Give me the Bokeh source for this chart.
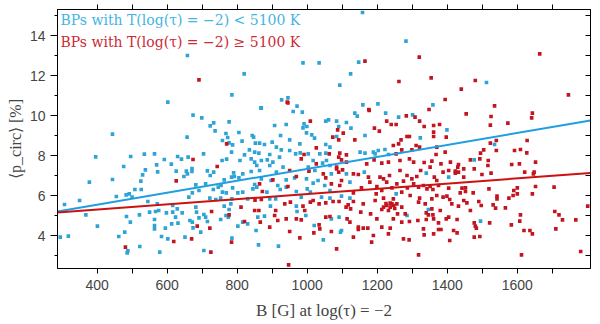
from bokeh.plotting import figure
from bokeh.models import (LinearAxis, SingleIntervalTicker, FixedTicker, Label, Range1d,
                          CustomLabelingPolicy)
from bokeh.embed import file_html
from bokeh.resources import INLINE

# ---------------- data (B [G], <p_circ> [%]) ----------------
blue_points = [
    (658, 13.0), (820, 12.08), (602, 10.67), (785, 11.03), (927, 10.78), (945, 10.88), (868, 10.37),
    (1158, 15.15), (1282, 13.72), (988, 12.63), (1034, 12.63), (1147, 12.67), (1124, 12.08), (1093, 11.52),
    (1512, 11.65), (1159, 10.53), (1202, 10.58), (1359, 10.53),
    (674, 10.02), (699, 9.88), (733, 9.63), (723, 9.48), (777, 9.68), (737, 9.23), (444, 9.07), (657, 8.92),
    (768, 9.1), (773, 8.9), (758, 8.75), (777, 8.63), (787, 8.53), (784, 8.17), (396, 7.93), (496, 7.95),
    (535, 8.07), (564, 8.08), (592, 7.8), (630, 7.95), (641, 7.82), (660, 7.92), (704, 8.08), (770, 7.82),
    (757, 7.75), (570, 7.53), (612, 7.57), (476, 7.45), (538, 7.28), (573, 7.18), (626, 7.22), (655, 7.22),
    (671, 7.35), (671, 7.2), (715, 7.23), (733, 7.17), (530, 7.03), (658, 7.08), (648, 6.95), (723, 7.0),
    (790, 7.13), (792, 6.95), (784, 6.92), (525, 6.72), (444, 6.8), (378, 6.67), (682, 6.53), (710, 6.58),
    (763, 6.78), (754, 6.5), (508, 6.3), (526, 6.3), (787, 6.38),
    (869, 10.38), (971, 10.47), (960, 10.2), (986, 10.17), (1136, 10.12), (1143, 9.97), (1224, 10.12),
    (1261, 9.92), (1301, 10.03), (940, 9.55), (991, 9.58), (999, 9.45), (1053, 9.72), (1061, 9.78),
    (1084, 9.72), (1090, 9.45), (1112, 9.65), (1125, 9.37), (805, 9.15), (843, 9.0), (847, 8.92), (907, 9.5),
    (924, 9.0), (988, 9.38), (998, 9.13), (1013, 9.03), (1021, 8.87), (1084, 8.95), (1165, 9.0), (814, 8.72),
    (852, 8.62), (864, 8.62), (878, 8.55), (900, 8.67), (950, 8.78), (979, 8.58), (912, 8.42), (835, 8.28),
    (850, 8.17), (862, 8.12), (893, 8.05), (821, 8.03), (926, 8.28), (950, 8.25), (967, 8.08), (980, 8.13),
    (1003, 8.08), (1053, 8.55), (1065, 8.42), (1036, 8.08), (1053, 8.12), (1151, 8.17), (1165, 8.12),
    (1189, 8.17), (1194, 8.08), (1203, 8.25), (1222, 8.3), (1232, 8.05), (808, 7.75), (840, 7.83), (850, 7.67),
    (869, 7.75), (886, 7.78), (902, 7.67), (921, 7.92), (856, 7.5), (893, 7.5), (931, 7.42), (1017, 7.75),
    (1044, 7.62), (1055, 7.75), (1065, 7.5), (1003, 7.42), (816, 7.08), (840, 7.2), (864, 7.25), (912, 7.17),
    (1022, 7.25), (1069, 7.08), (1112, 7.08), (1163, 7.17), (805, 6.88), (869, 6.83), (897, 6.75), (940, 6.78),
    (964, 6.88), (998, 6.83), (1031, 6.75), (850, 6.55), (916, 6.5), (1017, 6.62), (1050, 6.5), (1122, 6.67),
    (1399, 9.28), (1323, 8.88), (1535, 8.55), (1477, 7.78), (1340, 7.12), (1404, 6.92),
    (492, 6.08), (483, 6.03), (455, 5.95), (500, 5.92), (307, 5.55), (350, 5.75), (368, 5.03), (401, 4.47),
    (295, 3.92), (318, 3.97), (462, 3.95), (479, 4.17), (488, 3.23), (486, 3.13), (522, 3.45), (484, 4.95),
    (495, 4.67), (521, 5.03), (545, 5.7), (550, 5.17), (567, 5.2), (572, 5.58), (576, 5.25), (598, 5.13),
    (564, 4.8), (564, 4.5), (564, 4.33), (595, 4.37), (584, 3.95), (602, 3.83), (579, 3.17), (616, 5.17),
    (624, 4.92), (629, 5.33), (643, 5.13), (616, 5.5), (613, 4.58), (631, 4.62), (651, 3.92), (665, 4.75),
    (672, 4.67), (674, 4.38), (682, 5.42), (684, 5.17), (691, 4.88), (696, 4.17), (705, 5.05), (710, 4.92),
    (715, 4.7), (705, 3.25), (662, 5.92), (672, 6.13), (691, 6.25), (722, 5.87), (739, 5.8), (732, 6.3),
    (753, 5.87), (746, 6.42), (758, 6.17), (769, 6.13), (785, 5.83), (782, 5.58), (763, 5.47), (777, 5.3),
    (753, 4.8), (768, 5.0), (775, 4.92), (785, 3.87),
    (802, 6.13), (816, 6.17), (830, 5.83), (845, 6.33), (856, 6.42), (885, 6.17), (893, 5.83), (910, 5.83),
    (923, 6.3), (940, 6.42), (969, 6.2), (983, 5.92), (1000, 6.33), (1009, 6.17), (1065, 6.25), (1041, 5.92),
    (1065, 5.87), (1098, 5.97), (1122, 5.87), (1254, 6.08), (895, 5.47), (969, 5.47), (971, 5.2), (1285, 5.0),
    (859, 4.92), (878, 4.97), (996, 5.0), (816, 4.67), (830, 4.58), (802, 4.47), (854, 4.25), (1020, 4.5),
    (1069, 4.83), (1091, 4.92), (1098, 4.25), (1095, 4.17), (1046, 3.78), (861, 3.53), (918, 3.47),
    (1346, 5.3), (1495, 4.72),
]

red_points = [
    (691, 11.78), (943, 10.67),
    (1165, 12.72), (1320, 12.92), (1664, 13.08), (1262, 11.7), (1354, 11.88), (1480, 11.75), (1440, 11.32),
    (1394, 10.8), (1746, 11.03), (1176, 10.3), (1348, 10.3), (1535, 10.48),
    (770, 8.58), (674, 7.8), (743, 7.45), (626, 6.73),
    (945, 10.63), (1177, 10.25), (1283, 9.98), (1009, 9.72), (1227, 9.72), (1240, 9.55), (1254, 9.55),
    (1192, 9.37), (1206, 9.22), (1087, 9.28), (1073, 8.92), (1103, 9.12), (1090, 8.78), (1136, 8.78),
    (1268, 8.78), (1285, 8.95), (1292, 8.95), (1308, 9.92), (991, 8.05), (1026, 8.38), (1063, 8.08),
    (1093, 8.12), (1112, 8.03), (1246, 8.5), (1261, 8.58), (1270, 8.28), (1299, 8.28), (1311, 8.5),
    (1254, 8.08), (983, 7.83), (1026, 7.58), (1090, 7.92), (1098, 7.78), (1112, 7.67), (1084, 7.42),
    (1170, 7.58), (1191, 7.78), (1213, 7.62), (1232, 7.67), (1265, 7.75), (1292, 7.83), (1304, 7.67),
    (950, 7.25), (969, 6.95), (1005, 7.22), (1046, 7.08), (1084, 7.33), (1090, 7.17), (1101, 7.28),
    (1132, 7.08), (1146, 7.05), (1175, 6.92), (1208, 6.92), (1218, 6.83), (1235, 7.0), (1265, 7.25),
    (1285, 7.0), (1299, 6.83), (902, 6.78), (1053, 6.88), (1098, 6.75), (864, 6.58), (945, 6.45),
    (1069, 6.58), (1093, 6.5), (1179, 6.67), (1199, 6.45), (1227, 6.67), (1256, 6.58), (1275, 6.72),
    (1304, 6.58), (1155, 6.38), (1242, 6.38), (1286, 6.38),
    (1454, 10.08), (1525, 9.95), (1643, 10.12), (1641, 9.88), (1321, 9.72), (1334, 9.45), (1361, 9.5),
    (1378, 9.55), (1523, 9.52), (1573, 9.62), (1361, 9.17), (1361, 8.95), (1397, 8.92), (1523, 8.62),
    (1540, 8.75), (1628, 8.75), (1370, 8.42), (1321, 8.42), (1394, 8.17), (1368, 8.05), (1504, 8.28),
    (1540, 8.25), (1592, 8.25), (1609, 8.3), (1627, 8.13), (1495, 8.12), (1466, 7.78), (1493, 7.83),
    (1517, 7.75), (1652, 7.67), (1334, 7.65), (1356, 7.72), (1382, 7.58), (1409, 7.67), (1432, 7.55),
    (1430, 7.42), (1447, 7.33), (1477, 7.33), (1516, 7.5), (1584, 7.55), (1606, 7.58), (1324, 7.25),
    (1351, 7.42), (1388, 7.17), (1404, 7.25), (1423, 7.22), (1423, 7.12), (1432, 7.17), (1499, 7.05),
    (1525, 7.12), (1621, 7.17), (1648, 7.17), (1646, 7.08), (1363, 6.92), (1370, 6.75), (1447, 6.92),
    (1313, 6.95), (1332, 6.5), (1351, 6.45), (1375, 6.5), (1404, 6.37), (1442, 6.37), (1452, 6.38),
    (1519, 6.33), (1600, 6.38), (1652, 6.45), (1705, 6.42),
    (481, 3.42), (619, 3.7), (670, 3.83), (686, 4.47), (722, 4.37), (727, 5.2), (725, 3.17), (777, 5.03),
    (784, 3.67),
    (872, 6.2), (851, 5.77), (869, 5.8), (1017, 5.75), (1009, 5.67), (1132, 6.13), (1197, 6.08), (1213, 6.25),
    (1246, 5.83), (1194, 5.75), (1218, 5.87), (1270, 6.17), (1294, 6.0), (811, 5.42), (850, 5.25), (862, 5.25),
    (910, 5.25), (936, 5.58), (952, 5.67), (988, 5.47), (993, 5.25), (1034, 5.58), (1053, 5.63), (1074, 5.7),
    (1091, 5.7), (1111, 5.42), (1124, 5.33), (1117, 5.53), (1132, 5.7), (1153, 5.17), (1160, 5.58),
    (1181, 5.08), (1199, 4.83), (1213, 5.3), (1218, 5.42), (1227, 5.5), (1237, 5.42), (1242, 5.58),
    (1232, 5.25), (1256, 5.58), (1270, 5.42), (1258, 5.08), (1280, 5.08), (1246, 4.83), (1270, 4.67),
    (1292, 4.7), (1237, 5.62), (1247, 5.5), (1225, 5.6), (1250, 5.35), (916, 4.75), (907, 5.0), (940, 4.83),
    (969, 4.83), (983, 4.78), (821, 4.7), (866, 4.67), (893, 4.42), (950, 4.2), (1019, 4.13), (1034, 4.53),
    (1036, 4.33), (1053, 4.92), (1065, 4.95), (1114, 4.83), (1122, 4.67), (1069, 4.2), (1146, 4.42),
    (1146, 4.3), (1160, 4.37), (1173, 4.37), (1189, 4.0), (1213, 4.42), (1237, 4.37), (1232, 4.08),
    (1132, 3.92), (1184, 3.67), (1275, 3.83), (1291, 3.78), (979, 3.88), (1084, 3.33), (947, 2.53),
    (1318, 6.42), (1342, 6.33), (1359, 6.3), (1452, 6.2), (1474, 6.13), (1590, 6.25), (1600, 6.08),
    (1643, 6.08), (1321, 5.87), (1356, 5.83), (1370, 6.0), (1388, 5.92), (1399, 5.97), (1407, 5.8),
    (1437, 6.13), (1447, 5.75), (1456, 5.63), (1490, 5.7), (1542, 5.97), (1542, 5.83), (1576, 5.87),
    (1588, 6.0), (1318, 5.67), (1337, 5.58), (1413, 5.58), (1432, 5.47), (1497, 5.5), (1531, 5.53),
    (1538, 5.37), (1566, 5.38), (1801, 5.47), (1356, 5.33), (1380, 5.25), (1466, 5.25), (1340, 5.13),
    (1346, 5.03), (1359, 5.03), (1404, 4.92), (1397, 4.83), (1428, 4.8), (1316, 4.75), (1340, 4.8),
    (1361, 4.83), (1375, 4.63), (1477, 4.63), (1521, 4.63), (1609, 5.03), (1607, 4.72), (1707, 5.2),
    (1719, 5.03), (1729, 4.78), (1767, 4.78), (1480, 4.47), (1483, 4.37), (1583, 4.53), (1332, 4.33),
    (1375, 4.3), (1382, 4.3), (1418, 4.25), (1428, 4.13), (1334, 4.03), (1361, 4.08), (1619, 4.25),
    (1636, 4.25), (1643, 4.08), (1710, 4.33), (1477, 3.92), (1493, 3.95), (1407, 3.75), (1318, 3.03),
    (1612, 3.03), (1781, 3.2),
]

# linear fits (end points over the plotted B range)
fit_B = [287, 1809]
blue_fit = [5.2, 9.75]
red_fit = [5.15, 7.13]

# axis ticks
x_major_ticks = [400, 600, 800, 1000, 1200, 1400, 1600]
x_minor_ticks = [500, 700, 900, 1100, 1300, 1500, 1700]

legend_blue = "BPs with T(log(τ) = −2) < 5100 K"
legend_red = "BPs with T(log(τ) = −2) ≥ 5100 K"
x_label = "B [G] at log(τ) = −2"
y_label = "⟨p_circ⟩ [%]"

x_lim = (287, 1809)
y_lim = (2.35, 15.3)

BLUE = "#2ea4d6"
RED = "#c4141f"
BLUE_LINE = "#1f9fe0"
RED_LINE = "#cc1111"

bx = [b for b, _ in blue_points]
by = [v for _, v in blue_points]
rx = [b for b, _ in red_points]
ry = [v for _, v in red_points]

p = figure(width=600, height=324, x_range=Range1d(*x_lim), y_range=Range1d(*y_lim),
           output_backend="svg", toolbar_location=None,
           min_border_left=57, min_border_right=10, min_border_top=9, min_border_bottom=56)
p.grid.visible = False
p.outline_line_color = "black"
p.background_fill_color = "white"
p.border_fill_color = "white"

TICK_FONT = "Liberation Sans"
SERIF = "Liberation Serif"

xa = p.xaxis[0]
xa.ticker = FixedTicker(ticks=x_major_ticks, minor_ticks=x_minor_ticks)
xa.major_tick_out = 5
xa.major_tick_in = 0
xa.minor_tick_out = 5
xa.minor_tick_in = 0
xa.major_label_text_font = TICK_FONT
xa.major_label_text_font_size = "14px"
xa.major_label_standoff = 6
xa.axis_line_color = "black"
xa.axis_label = x_label
xa.axis_label_text_font = SERIF
xa.axis_label_text_font_size = "17px"
xa.axis_label_text_font_style = "normal"
xa.axis_label_standoff = 8

ya = p.yaxis[0]
ya.ticker = SingleIntervalTicker(interval=2, num_minor_ticks=2)
ya.major_tick_out = 7
ya.major_tick_in = 0
ya.minor_tick_out = 3
ya.minor_tick_in = 0
ya.major_label_text_font = TICK_FONT
ya.major_label_text_font_size = "14px"
ya.major_label_standoff = 5
ya.axis_line_color = "black"
ya.axis_label = y_label
ya.axis_label_text_font = SERIF
ya.axis_label_text_font_size = "16px"
ya.axis_label_text_font_style = "normal"
ya.axis_label_standoff = 3

top = LinearAxis(ticker=FixedTicker(ticks=x_major_ticks + x_minor_ticks),
                 major_tick_out=5, major_tick_in=0, minor_tick_out=0, minor_tick_in=0,
                 major_label_text_font_size="1px", major_label_standoff=0,
                 major_label_policy=CustomLabelingPolicy(code="return new Set()"))
p.add_layout(top, "above")

right = LinearAxis(ticker=SingleIntervalTicker(interval=1, num_minor_ticks=0),
                   major_tick_out=0, major_tick_in=5, minor_tick_out=0, minor_tick_in=0,
                   major_label_text_font_size="1px", major_label_standoff=0,
                   major_label_policy=CustomLabelingPolicy(code="return new Set()"))
p.add_layout(right, "right")

p.scatter(bx, by, marker="square", size=3.6, fill_color=BLUE, line_color=None)
p.scatter(rx, ry, marker="square", size=3.6, fill_color=RED, line_color=None)

p.line(fit_B, blue_fit, line_color=BLUE_LINE, line_width=2)
p.line(fit_B, red_fit, line_color=RED_LINE, line_width=2)

p.add_layout(Label(x=x_lim[0], y=y_lim[1], x_offset=3, y_offset=-10, text=legend_blue,
                   text_font="DejaVu Serif", text_font_size="14px", text_color="#45b4e4",
                   text_baseline="middle"))
p.add_layout(Label(x=x_lim[0], y=y_lim[1], x_offset=3, y_offset=-32, text=legend_red,
                   text_font="DejaVu Serif", text_font_size="14px", text_color="#cc2a36",
                   text_baseline="middle"))

open("out.html", "w").write(file_html(p, INLINE))
